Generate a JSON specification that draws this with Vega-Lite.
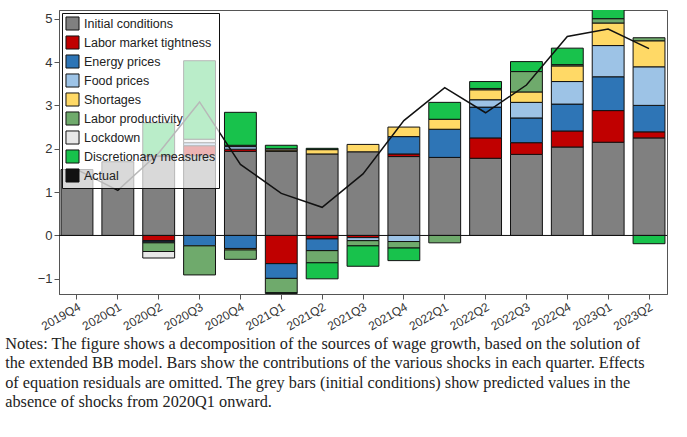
{
"$schema":"https://vega.github.io/schema/vega-lite/v6.json",
"width":608,"height":284,
"padding":{"left":5,"top":10,"right":5,"bottom":2},
"config":{"view":{"stroke":"#555"},"font":"Liberation Sans"},
"title":{"text":["Notes: The figure shows a decomposition of the sources of wage growth, based on the solution of","the extended BB model. Bars show the contributions of the various shocks in each quarter. Effects","of equation residuals are omitted. The grey bars (initial conditions) show predicted values in the","absence of shocks from 2020Q1 onward."],"orient":"bottom","anchor":"start","font":"Liberation Serif","fontSize":16.3,"fontWeight":"normal","color":"#222","lineHeight":19.5,"offset":4,"dx":-32},
"datasets":{
"bars":[
{"q":"2019Q4","s":"Initial conditions","o":1,"v":1.52},
{"q":"2020Q1","s":"Initial conditions","o":1,"v":1.70},
{"q":"2020Q2","s":"Initial conditions","o":1,"v":1.82},
{"q":"2020Q2","s":"Labor market tightness","o":2,"v":0.02},
{"q":"2020Q2","s":"Discretionary measures","o":8,"v":0.76},
{"q":"2020Q2","s":"Labor market tightness","o":2,"v":-0.12},
{"q":"2020Q2","s":"Energy prices","o":3,"v":-0.03},
{"q":"2020Q2","s":"Food prices","o":4,"v":-0.02},
{"q":"2020Q2","s":"Labor productivity","o":6,"v":-0.2},
{"q":"2020Q2","s":"Lockdown","o":7,"v":-0.15},
{"q":"2020Q3","s":"Initial conditions","o":1,"v":1.84},
{"q":"2020Q3","s":"Labor market tightness","o":2,"v":0.23},
{"q":"2020Q3","s":"Food prices","o":4,"v":0.07},
{"q":"2020Q3","s":"Lockdown","o":7,"v":0.08},
{"q":"2020Q3","s":"Discretionary measures","o":8,"v":1.81},
{"q":"2020Q3","s":"Energy prices","o":3,"v":-0.24},
{"q":"2020Q3","s":"Labor productivity","o":6,"v":-0.67},
{"q":"2020Q4","s":"Initial conditions","o":1,"v":1.94},
{"q":"2020Q4","s":"Labor market tightness","o":2,"v":0.05},
{"q":"2020Q4","s":"Food prices","o":4,"v":0.06},
{"q":"2020Q4","s":"Lockdown","o":7,"v":0.03},
{"q":"2020Q4","s":"Discretionary measures","o":8,"v":0.76},
{"q":"2020Q4","s":"Energy prices","o":3,"v":-0.3},
{"q":"2020Q4","s":"Labor productivity","o":6,"v":-0.22},
{"q":"2020Q4","s":"Shortages","o":5,"v":-0.03},
{"q":"2021Q1","s":"Initial conditions","o":1,"v":1.94},
{"q":"2021Q1","s":"Shortages","o":5,"v":0.03},
{"q":"2021Q1","s":"Lockdown","o":7,"v":0.03},
{"q":"2021Q1","s":"Discretionary measures","o":8,"v":0.08},
{"q":"2021Q1","s":"Labor market tightness","o":2,"v":-0.65},
{"q":"2021Q1","s":"Energy prices","o":3,"v":-0.34},
{"q":"2021Q1","s":"Labor productivity","o":6,"v":-0.33},
{"q":"2021Q1","s":"Discretionary measures","o":8,"v":-0.02},
{"q":"2021Q2","s":"Initial conditions","o":1,"v":1.88},
{"q":"2021Q2","s":"Shortages","o":5,"v":0.10},
{"q":"2021Q2","s":"Discretionary measures","o":8,"v":0.03},
{"q":"2021Q2","s":"Labor market tightness","o":2,"v":-0.08},
{"q":"2021Q2","s":"Energy prices","o":3,"v":-0.27},
{"q":"2021Q2","s":"Labor productivity","o":6,"v":-0.28},
{"q":"2021Q2","s":"Discretionary measures","o":8,"v":-0.37},
{"q":"2021Q3","s":"Initial conditions","o":1,"v":1.93},
{"q":"2021Q3","s":"Shortages","o":5,"v":0.17},
{"q":"2021Q3","s":"Labor market tightness","o":2,"v":-0.05},
{"q":"2021Q3","s":"Food prices","o":4,"v":-0.07},
{"q":"2021Q3","s":"Labor productivity","o":6,"v":-0.12},
{"q":"2021Q3","s":"Discretionary measures","o":8,"v":-0.47},
{"q":"2021Q4","s":"Initial conditions","o":1,"v":1.82},
{"q":"2021Q4","s":"Labor market tightness","o":2,"v":0.06},
{"q":"2021Q4","s":"Energy prices","o":3,"v":0.40},
{"q":"2021Q4","s":"Shortages","o":5,"v":0.22},
{"q":"2021Q4","s":"Food prices","o":4,"v":-0.14},
{"q":"2021Q4","s":"Labor productivity","o":6,"v":-0.15},
{"q":"2021Q4","s":"Discretionary measures","o":8,"v":-0.29},
{"q":"2022Q1","s":"Initial conditions","o":1,"v":1.80},
{"q":"2022Q1","s":"Energy prices","o":3,"v":0.65},
{"q":"2022Q1","s":"Shortages","o":5,"v":0.23},
{"q":"2022Q1","s":"Discretionary measures","o":8,"v":0.39},
{"q":"2022Q1","s":"Labor productivity","o":6,"v":-0.17},
{"q":"2022Q2","s":"Initial conditions","o":1,"v":1.78},
{"q":"2022Q2","s":"Labor market tightness","o":2,"v":0.47},
{"q":"2022Q2","s":"Energy prices","o":3,"v":0.71},
{"q":"2022Q2","s":"Food prices","o":4,"v":0.17},
{"q":"2022Q2","s":"Shortages","o":5,"v":0.23},
{"q":"2022Q2","s":"Labor productivity","o":6,"v":0.03},
{"q":"2022Q2","s":"Discretionary measures","o":8,"v":0.16},
{"q":"2022Q3","s":"Initial conditions","o":1,"v":1.87},
{"q":"2022Q3","s":"Labor market tightness","o":2,"v":0.27},
{"q":"2022Q3","s":"Energy prices","o":3,"v":0.57},
{"q":"2022Q3","s":"Food prices","o":4,"v":0.36},
{"q":"2022Q3","s":"Shortages","o":5,"v":0.24},
{"q":"2022Q3","s":"Labor productivity","o":6,"v":0.47},
{"q":"2022Q3","s":"Discretionary measures","o":8,"v":0.23},
{"q":"2022Q4","s":"Initial conditions","o":1,"v":2.04},
{"q":"2022Q4","s":"Labor market tightness","o":2,"v":0.37},
{"q":"2022Q4","s":"Energy prices","o":3,"v":0.62},
{"q":"2022Q4","s":"Food prices","o":4,"v":0.52},
{"q":"2022Q4","s":"Shortages","o":5,"v":0.36},
{"q":"2022Q4","s":"Labor productivity","o":6,"v":0.03},
{"q":"2022Q4","s":"Discretionary measures","o":8,"v":0.38},
{"q":"2023Q1","s":"Initial conditions","o":1,"v":2.15},
{"q":"2023Q1","s":"Labor market tightness","o":2,"v":0.73},
{"q":"2023Q1","s":"Energy prices","o":3,"v":0.78},
{"q":"2023Q1","s":"Food prices","o":4,"v":0.72},
{"q":"2023Q1","s":"Shortages","o":5,"v":0.52},
{"q":"2023Q1","s":"Labor productivity","o":6,"v":0.1},
{"q":"2023Q1","s":"Discretionary measures","o":8,"v":0.3},
{"q":"2023Q2","s":"Initial conditions","o":1,"v":2.25},
{"q":"2023Q2","s":"Labor market tightness","o":2,"v":0.14},
{"q":"2023Q2","s":"Energy prices","o":3,"v":0.61},
{"q":"2023Q2","s":"Food prices","o":4,"v":0.89},
{"q":"2023Q2","s":"Shortages","o":5,"v":0.60},
{"q":"2023Q2","s":"Labor productivity","o":6,"v":0.07},
{"q":"2023Q2","s":"Discretionary measures","o":8,"v":-0.19}
],
"actual":[
{"q":"2019Q4","s":"Actual","v":1.52},
{"q":"2020Q1","s":"Actual","v":1.04},
{"q":"2020Q2","s":"Actual","v":1.9},
{"q":"2020Q3","s":"Actual","v":3.08},
{"q":"2020Q4","s":"Actual","v":1.64},
{"q":"2021Q1","s":"Actual","v":0.97},
{"q":"2021Q2","s":"Actual","v":0.65},
{"q":"2021Q3","s":"Actual","v":1.42},
{"q":"2021Q4","s":"Actual","v":2.65},
{"q":"2022Q1","s":"Actual","v":3.41},
{"q":"2022Q2","s":"Actual","v":2.83},
{"q":"2022Q3","s":"Actual","v":3.47},
{"q":"2022Q4","s":"Actual","v":4.59},
{"q":"2023Q1","s":"Actual","v":4.76},
{"q":"2023Q2","s":"Actual","v":4.31}
]},
"layer":[
{"data":{"name":"bars"},"mark":{"type":"bar","stroke":"#111","strokeWidth":1,"clip":true},
"encoding":{
"x":{"field":"q","type":"ordinal","title":null,"scale":{"paddingInner":0.22,"paddingOuter":0.05},"axis":{"labelAngle":-30,"labelAlign":"right","labelFontSize":12,"labelColor":"#333","tickColor":"#555","domainColor":"#555","labelBaseline":"top"}},
"y":{"field":"v","type":"quantitative","stack":"zero","title":null,"scale":{"domain":[-1.35,5.2],"nice":false,"zero":false},"axis":{"values":[-1,0,1,2,3,4,5],"labelFontSize":13,"labelColor":"#333","grid":false,"tickColor":"#555","domainColor":"#555"}},
"order":{"field":"o","type":"quantitative"},
"color":{"field":"s","type":"nominal","scale":{"domain":["Initial conditions","Labor market tightness","Energy prices","Food prices","Shortages","Labor productivity","Lockdown","Discretionary measures","Actual"],"range":["#808080","#c00000","#2e75b6","#9dc3e6","#ffd966","#6faa6c","#e8e8e8","#18c24c","#111111"]},
"legend":{"title":null,"orient":"top-left","offset":3,"strokeColor":"#111","fillColor":"rgba(255,255,255,0.7)","padding":3,"labelFontSize":12.5,"symbolType":"square","symbolSize":170,"symbolStrokeColor":"#111","symbolStrokeWidth":1,"rowPadding":0,"labelColor":"#222","symbolOpacity":1}}}},
{"data":{"values":[{"v":0}]},"mark":{"type":"rule","color":"#111","strokeWidth":1},"encoding":{"y":{"field":"v","type":"quantitative"}}},
{"data":{"name":"actual"},"mark":{"type":"line","color":"#111","strokeWidth":1.5},
"encoding":{"x":{"field":"q","type":"ordinal"},"y":{"field":"v","type":"quantitative"}}}
]
}
